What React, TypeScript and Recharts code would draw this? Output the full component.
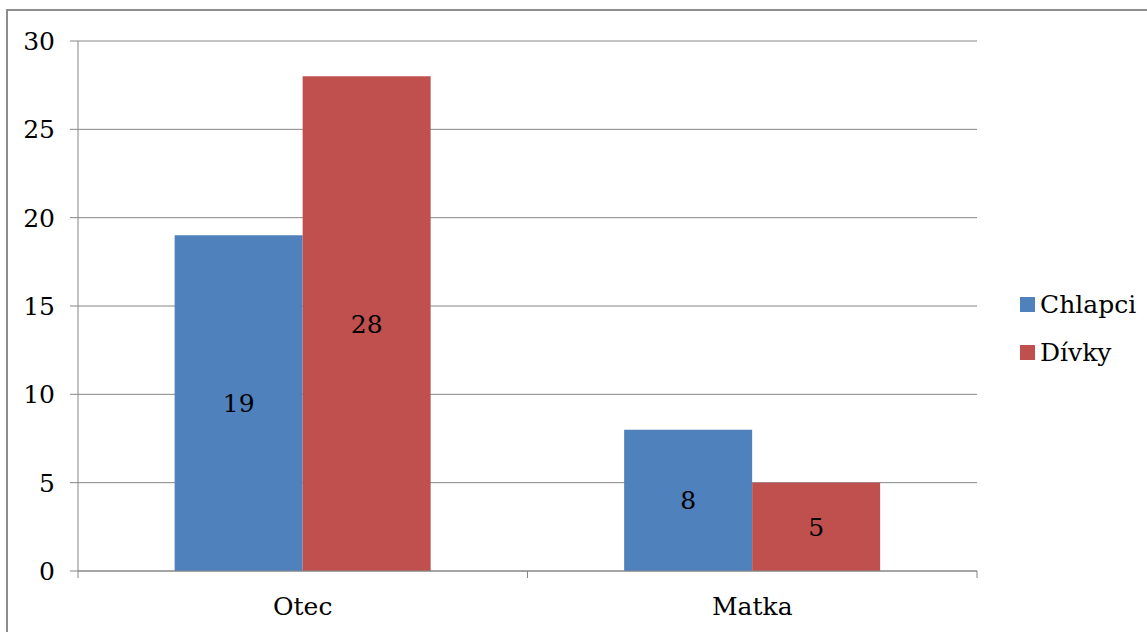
import React from 'react';
import { BarChart, Bar, XAxis, YAxis, CartesianGrid, LabelList, Legend } from 'recharts';

const categories = ['Otec', 'Matka'];
const chlapci = [19, 8];
const divky = [28, 5];
const yTicks = [0, 5, 10, 15, 20, 25, 30];

const data = categories.map((name, i) => ({ name, Chlapci: chlapci[i], Dívky: divky[i] }));

const W = 1147;
const H = 632;
const margin = { top: 41, right: 170, bottom: 0, left: 0 };
const yAxisWidth = 78;
const plotWidth = W - margin.left - margin.right - yAxisWidth;
const halfBand = plotWidth / categories.length / 2;

const FONT = '"DejaVu Serif", serif';
const FS = 25;
const AXIS = '#868686';

const XTick = (props: any) => {
  const { x, y, payload, index } = props;
  const top = y - 8;
  return (
    <g>
      <line x1={x - halfBand} x2={x - halfBand} y1={top} y2={top + 7} stroke={AXIS} />
      {index === categories.length - 1 && (
        <line x1={x + halfBand} x2={x + halfBand} y1={top} y2={top + 7} stroke={AXIS} />
      )}
      <text x={x} y={top + 44} textAnchor="middle" fontSize={FS} style={{ fontFamily: FONT }} fill="#000">
        {payload.value}
      </text>
    </g>
  );
};

const LegendContent = (props: any) => {
  const { payload } = props;
  return (
    <div style={{ fontFamily: FONT, fontSize: FS, color: '#000' }}>
      {payload.map((p: any) => (
        <div key={p.value} style={{ display: 'flex', alignItems: 'center', height: 48 }}>
          <span style={{ display: 'inline-block', width: 15, height: 15, background: p.color, marginRight: 5 }} />
          <span>{p.value}</span>
        </div>
      ))}
    </div>
  );
};

export default function App() {
  return (
    <div style={{ position: 'absolute', left: 0, top: 0, width: W, height: H, background: '#fff', overflow: 'hidden' }}>
      <div
        style={{
          position: 'absolute',
          left: 6,
          top: 9,
          width: W,
          height: H,
          border: '2px solid #8c8c8c',
          boxSizing: 'border-box',
        }}
      />
      <div style={{ position: 'absolute', left: 0, top: 0 }}>
        <BarChart width={W} height={H} data={data} margin={margin} barCategoryGap="21.5%" barGap={0}>
          <CartesianGrid vertical={false} stroke={AXIS} strokeWidth={1} />
          <XAxis
            dataKey="name"
            height={61}
            axisLine={{ stroke: AXIS }}
            tickLine={false}
            tick={<XTick />}
            interval={0}
          />
          <YAxis
            width={yAxisWidth}
            domain={[0, 30]}
            ticks={yTicks}
            axisLine={{ stroke: AXIS }}
            tickLine={{ stroke: AXIS }}
            tickSize={8}
            tickMargin={15}
            tick={{ fontSize: FS, fontFamily: FONT, fill: '#000' }}
          />
          <Legend
            layout="horizontal"
            align="center"
            verticalAlign="middle"
            content={<LegendContent />}
            wrapperStyle={{ left: 1020, top: 280, width: 127 }}
          />
          <Bar dataKey="Chlapci" fill="#4F81BD" isAnimationActive={false}>
            <LabelList dataKey="Chlapci" position="center" fill="#000" fontSize={FS} fontFamily={FONT} />
          </Bar>
          <Bar dataKey="Dívky" fill="#C0504D" isAnimationActive={false}>
            <LabelList dataKey="Dívky" position="center" fill="#000" fontSize={FS} fontFamily={FONT} />
          </Bar>
        </BarChart>
      </div>
    </div>
  );
}
